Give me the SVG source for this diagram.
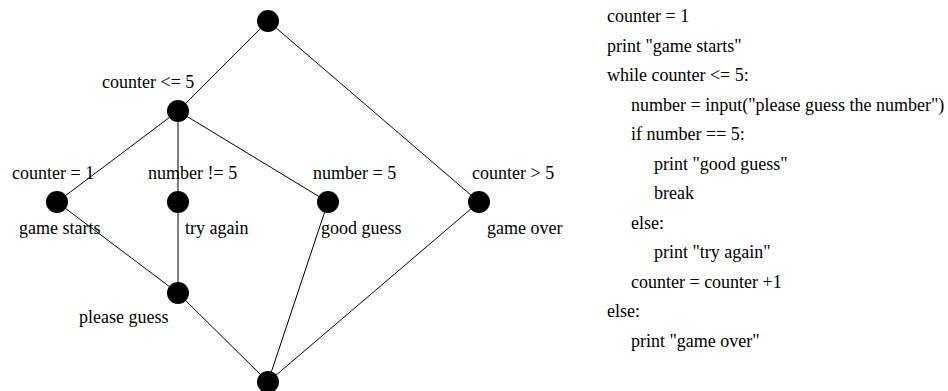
<svg xmlns="http://www.w3.org/2000/svg" width="948" height="391" viewBox="0 0 948 391">
<style>
.e{stroke:#000;stroke-width:1;fill:none}
.n{fill:#000}
text{font-family:"Liberation Serif","Times New Roman",serif;font-size:18px;fill:#000}
</style>
<rect width="948" height="391" fill="#fff"/>
<g id="connectors">
<line class="e" x1="268" y1="21" x2="178" y2="111"/>
<line class="e" x1="268" y1="21" x2="479" y2="202"/>
<line class="e" x1="178" y1="111" x2="57" y2="202"/>
<line class="e" x1="178" y1="111" x2="178" y2="202"/>
<line class="e" x1="178" y1="111" x2="328" y2="202"/>
<line class="e" x1="57" y1="202" x2="178" y2="293"/>
<line class="e" x1="178" y1="202" x2="178" y2="293"/>
<line class="e" x1="178" y1="293" x2="268" y2="382"/>
<line class="e" x1="328" y1="202" x2="268" y2="382"/>
<line class="e" x1="479" y1="202" x2="268" y2="382"/>
</g>
<g id="n-top"><circle class="n" cx="268" cy="21" r="11"/></g>
<g id="n-loop"><circle class="n" cx="178" cy="111" r="11"/><text x="102" y="88">counter &lt;= 5</text></g>
<g id="n-start"><circle class="n" cx="57" cy="202" r="11"/><text x="12" y="179">counter = 1</text><text x="19" y="234">game starts</text></g>
<g id="n-try"><circle class="n" cx="178" cy="202" r="11"/><text x="148" y="179">number != 5</text><text x="185" y="234">try again</text></g>
<g id="n-good"><circle class="n" cx="328" cy="202" r="11"/><text x="313" y="179">number = 5</text><text x="321" y="234">good guess</text></g>
<g id="n-over"><circle class="n" cx="479" cy="202" r="11"/><text x="472" y="179">counter &gt; 5</text><text x="487" y="234">game over</text></g>
<g id="n-guess"><circle class="n" cx="178" cy="293" r="11"/><text x="79" y="323">please guess</text></g>
<g id="n-bottom"><circle class="n" cx="268" cy="382" r="11"/></g>
<g id="code">
<text x="607" y="22">counter = 1</text>
<text x="607" y="51.5">print "game starts"</text>
<text x="607" y="81">while counter &lt;= 5:</text>
<text x="631" y="110.5">number = input("please guess the number")</text>
<text x="631" y="140">if number == 5:</text>
<text x="654" y="169.5">print "good guess"</text>
<text x="654" y="199">break</text>
<text x="631" y="228.5">else:</text>
<text x="654" y="258">print "try again"</text>
<text x="631" y="287.5">counter = counter +1</text>
<text x="607" y="317">else:</text>
<text x="631" y="346.5">print "game over"</text>
</g>
</svg>
